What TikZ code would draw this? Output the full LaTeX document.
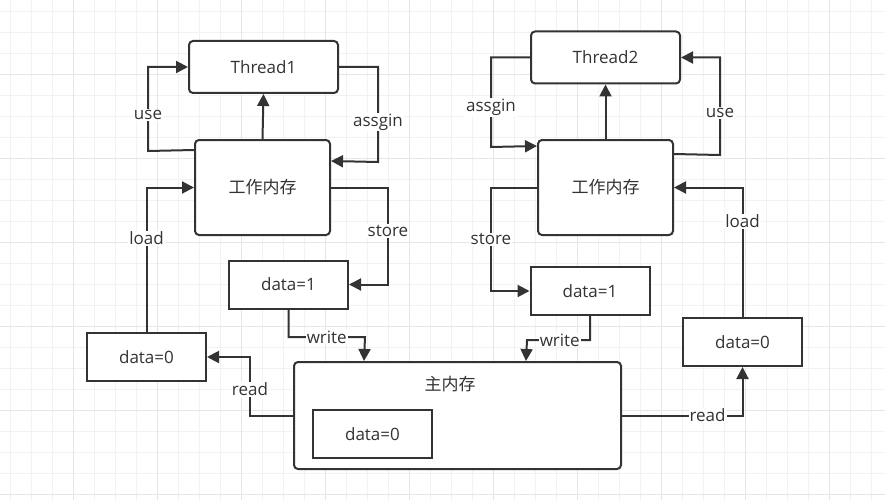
\documentclass[tikz,border=0pt]{standalone}
\usepackage{fontspec}
\setmainfont{Open Sans}
\newfontfamily\cjk{Noto Sans CJK SC}
\usetikzlibrary{arrows.meta}
\definecolor{ink}{HTML}{333333}
\definecolor{gridminor}{HTML}{F2F2F2}
\definecolor{gridmajor}{HTML}{E6E6E6}
\begin{document}
\begin{tikzpicture}[x=1pt,y=-1pt,
		font=\fontsize{17}{20}\selectfont, text=ink,
		box/.style={draw=ink,line width=2pt,fill=white,inner sep=0pt},
		roundbox/.style={box,rounded corners=4pt},
		thbox/.style={roundbox,minimum width=149pt,minimum height=52pt},
		membox/.style={roundbox,minimum width=135pt,minimum height=95pt},
		databox/.style={box,minimum width=119pt,minimum height=48pt},
		arr/.style={draw=ink,line width=2pt,-{Triangle[length=12pt,width=12pt]}},
		lbl/.style={fill=white,inner sep=1pt,text=ink}]
		% background and grid
		\fill[white] (0,0) rectangle (885,500);
		\useasboundingbox (0,0) rectangle (885,500);
		\foreach \i in {0,...,42}
			\draw[gridminor,line width=1pt] ({10.5+21*\i},0) -- ({10.5+21*\i},500);
		\foreach \i in {0,...,23}
			\draw[gridminor,line width=1pt] (0,{11.5+21*\i}) -- (885,{11.5+21*\i});
		\foreach \i in {0,...,10}
			\draw[gridmajor,line width=1pt] ({73.5+84*\i},0) -- ({73.5+84*\i},500);
		\foreach \i in {0,...,5}
			\draw[gridmajor,line width=1pt] (0,{74.5+84*\i}) -- (885,{74.5+84*\i});

		% left thread
		\node[thbox] (thA) at (263.5,67) {Thread1};
		\node[membox] (memA) at (262.5,187.5) {\cjk 工作内存};
		\node[databox] (dA1) at (288.5,284.5) {data=1};
		\node[databox] (dA0) at (146.5,357) {data=0};

		% right thread
		\node[thbox] (thB) at (605.5,57.5) {Thread2};
		\node[membox] (memB) at (605.5,187.5) {\cjk 工作内存};
		\node[databox] (dB1) at (590,291) {data=1};
		\node[databox] (dB0) at (742.5,342) {data=0};

		% main memory
		\node[roundbox,minimum width=327pt,minimum height=107pt] (main) at (457.5,415.5) {};
		\node (mainlbl) at (450,384) {\cjk 主内存};
		\node[databox] (dM) at (372.5,434) {data=0};

		\draw[arr] (memA.north) -- (thA.south);
		\draw[arr] ([yshift=-11pt]memA.north west) -- (148,151) -- node[lbl,pos=0.43]{use} (148,67) -- (thA.west);
		\draw[arr] (thA.east) -- (378,67) -- node[lbl,pos=0.58]{assgin} (378,162) -- ([yshift=-22pt]memA.north east);
		\draw[arr] (dA0.north) -- node[lbl,pos=0.65]{load} (146.5,187.5) -- (memA.west);
		\draw[arr] (memA.east) -- (388,187.5) -- node[lbl,pos=0.45]{store} (388,284.5) -- (dA1.east);
		\draw[arr] (dA1.south) -- (288.5,337) -- node[lbl,pos=0.5]{write} (365,337) -- ([xshift=71pt]main.north west);
		\draw[arr] (main.west) -- (250,415.5) -- node[lbl,pos=0.45]{read} (250,357) -- (dA0.east);

		\draw[arr] (memB.north) -- (thB.south);
		\draw[arr] (thB.west) -- (491,57.5) -- node[lbl,pos=0.56]{assgin} (491,147) -- ([yshift=-7pt]memB.north west);
		\draw[arr] ([yshift=-15pt]memB.north east) -- (720,155) -- node[lbl,pos=0.43]{use} (720,57.5) -- (thB.east);
		\draw[arr] (memB.west) -- (491,187.5) -- node[lbl,pos=0.5]{store} (491,291) -- (dB1.west);
		\draw[arr] (dB0.north) -- node[lbl,pos=0.74]{load} (742.5,187.5) -- (memB.east);
		\draw[arr] (dB1.south) -- (590,340) -- node[lbl,pos=0.48]{write} (527,340) -- ([xshift=233pt]main.north west);
		\draw[arr] (main.east) -- node[lbl,pos=0.71]{read} (742.5,415.5) -- (dB0.south);
\end{tikzpicture}
\end{document}
